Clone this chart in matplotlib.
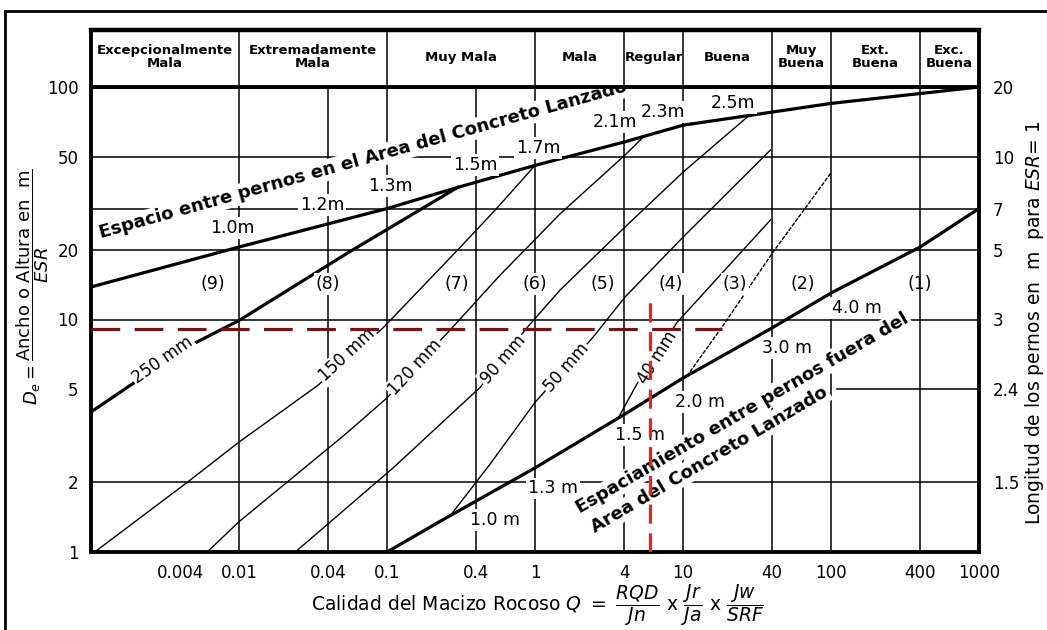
import numpy as np
import matplotlib
matplotlib.use("Agg")
import matplotlib.pyplot as plt
from matplotlib.lines import Line2D

# ── Axis ticks ────────────────────────────────────────────────────────────────
q_ticks = [0.004, 0.01, 0.04, 0.1, 0.4, 1, 4, 10, 40, 100, 400, 1000]
q_tick_labels = ["0.004", "0.01", "0.04", "0.1", "0.4", "1", "4", "10",
                 "40", "100", "400", "1000"]
de_ticks = [1, 2, 5, 10, 20, 50, 100]
bolt_pos = [100, 50, 30, 20, 10, 5, 2]
bolt_labels = ["20", "10", "7", "5", "3", "2.4", "1.5"]

# ── Rock mass categories (header) ────────────────────────────────────────────
cat_edges = [0.001, 0.01, 0.1, 1, 4, 10, 40, 100, 400, 1000]
cat_names = ["Excepcionalmente\nMala", "Extremadamente\nMala", "Muy Mala",
             "Mala", "Regular", "Buena", "Muy\nBuena", "Ext.\nBuena",
             "Exc.\nBuena"]

grid_q = [0.01, 0.04, 0.1, 0.4, 1, 4, 10, 40, 100, 400]
grid_de = [2, 10, 20, 30, 50]
grid5_q = [110, 1000]          # short line at De = 5 on the right

# ── Boundary curves (Q, De) ──────────────────────────────────────────────────
upper_q  = [0.001, 0.01, 0.1, 0.3, 1, 4, 10, 40, 100, 1000]
upper_de = [13.8, 20.5, 30, 37, 46, 58, 68.5, 78, 85, 100]
lower_q  = [0.1, 0.25, 1, 4, 10, 40, 100, 400, 1000]
lower_de = [1.0, 1.4, 2.3, 3.9, 5.6, 9.2, 13.0, 20.5, 30]

mm250_q  = [0.001, 0.002, 0.005, 0.01, 0.054, 0.3]
mm250_de = [4.0, 5.4, 7.9, 9.9, 19.3, 37]
mm150_q  = [0.00106, 0.0045, 0.01, 0.034, 0.094, 0.3, 0.55, 1.0]
mm150_de = [1.0, 2.0, 2.97, 5.2, 9.2, 19.9, 30, 46]
mm120_q  = [0.0061, 0.01, 0.052, 0.1, 0.275, 0.58, 1.48, 4.06, 5.4]
mm120_de = [1.0, 1.35, 3.2, 4.6, 9.2, 15.5, 28.5, 51, 61]
mm90_q   = [0.024, 0.11, 0.425, 0.88, 1.48, 4.06, 10, 28]
mm90_de  = [1.0, 2.3, 5.1, 9.2, 13.4, 25, 43, 75.5]
mm50_q   = [0.267, 0.5, 1.0, 2.47, 4.06, 10, 39]
mm50_de  = [1.43, 2.4, 4.4, 8.4, 12.5, 22.6, 53.6]
mm40_q   = [3.64, 4.9, 9.1, 39]
mm40_de  = [3.76, 5.3, 9.7, 26.8]
b32_q    = [10.6, 18.4, 40.6, 100]
b32_de   = [5.7, 9.3, 19.5, 42.7]

# ── Labels ───────────────────────────────────────────────────────────────────
region_names = ["(9)", "(8)", "(7)", "(6)", "(5)", "(4)", "(3)", "(2)", "(1)"]
region_q = [0.0067, 0.04, 0.297, 1.0, 2.88, 8.2, 22.4, 64.7, 400]
region_de = 14.2

up_spacing = ["1.0m", "1.2m", "1.3m", "1.5m", "1.7m", "2.1m", "2.3m", "2.5m"]
up_sp_q  = [0.00897, 0.0364, 0.105, 0.394, 1.05, 3.47, 7.3, 21.8]
up_sp_de = [24.8, 31.1, 37.5, 46.2, 54.7, 70.7, 78, 85.4]

lo_spacing = ["1.0 m", "1.3 m", "1.5 m", "2.0 m", "3.0 m", "4.0 m"]
lo_sp_q  = [0.537, 1.32, 5.12, 13.0, 50.5, 150]
lo_sp_de = [1.37, 1.88, 3.19, 4.42, 7.54, 11.2]

mm_names = ["250 mm", "150 mm", "120 mm", "90 mm", "50 mm", "40 mm"]
mm_q   = [0.00306, 0.0537, 0.155, 0.608, 1.64, 6.67]
mm_de  = [6.7, 7.03, 6.25, 6.7, 6.19, 6.9]
mm_rot = [35, 43, 47, 49, 49, 58]

# example reading (dashed lines)
ex_q, ex_de = 6.0, 9.1
ex_q_end, ex_de_top = 18.4, 11.9

# ── Figure ───────────────────────────────────────────────────────────────────
fig = plt.figure(figsize=(10.47, 6.30), dpi=100)
L, W = 91 / 1047, 888 / 1047
ax = fig.add_axes([L, 78 / 630, W, 465 / 630])
hx = fig.add_axes([L, 543 / 630, W, 57 / 630])

for a in (ax, hx):
    a.set_xscale("log")
    a.set_xlim(0.001, 1000)
    a.minorticks_off()
ax.set_yscale("log")
ax.set_ylim(1, 100)
ax.minorticks_off()

# grid
for q in grid_q:
    ax.axvline(q, color="black", lw=1.1, zorder=1)
for d in grid_de:
    ax.axhline(d, color="black", lw=1.1, zorder=1)
ax.plot(grid5_q, [5, 5], color="black", lw=1.1, zorder=1)

# curves
thick, thin = 2.3, 1.0
ax.plot(upper_q, upper_de, color="black", lw=thick, zorder=3)
ax.plot(lower_q, lower_de, color="black", lw=thick, zorder=3)
ax.plot(mm250_q, mm250_de, color="black", lw=thick, zorder=3)
for qq, dd in [(mm150_q, mm150_de), (mm120_q, mm120_de), (mm90_q, mm90_de),
               (mm50_q, mm50_de), (mm40_q, mm40_de)]:
    ax.plot(qq, dd, color="black", lw=thin, zorder=3)
ax.plot(b32_q, b32_de, color="black", lw=thin, dashes=(3, 1), zorder=3)

box = dict(boxstyle="square,pad=0.1", fc="white", ec="none")

for name, q in zip(region_names, region_q):
    ax.text(q, region_de, name, ha="center", va="center", fontsize=12.5,
            zorder=5, bbox=None if name == "(1)" else box)
for name, q, d in zip(up_spacing, up_sp_q, up_sp_de):
    ax.text(q, d, name, ha="center", va="center", fontsize=12.5, zorder=5, bbox=box)
for name, q, d in zip(lo_spacing, lo_sp_q, lo_sp_de):
    ax.text(q, d, name, ha="center", va="center", fontsize=12.5, zorder=5, bbox=box)
for name, q, d, r in zip(mm_names, mm_q, mm_de, mm_rot):
    ax.text(q, d, name, ha="center", va="center", fontsize=12, rotation=r,
            rotation_mode="anchor", zorder=5, bbox=box)

ax.text(0.070, 46.2, "Espacio entre pernos en el Area del Concreto Lanzado",
        ha="center", va="baseline", rotation=15.6, rotation_mode="anchor",
        fontsize=13, fontweight="bold", zorder=5, bbox=box)
ax.text(2.01, 1.47, "Espaciamiento entre pernos fuera del",
        ha="left", va="baseline", rotation=30.2, rotation_mode="anchor",
        fontsize=13, fontweight="bold", zorder=5, bbox=box)
ax.text(2.54, 1.21, "Area del Concreto Lanzado",
        ha="left", va="baseline", rotation=30.5, rotation_mode="anchor",
        fontsize=13, fontweight="bold", zorder=5, bbox=box)

# example dashed lines
ax.plot([0.001, ex_q_end], [ex_de, ex_de], color="#7b1113", lw=2.3,
        dashes=(9, 4.5), zorder=7)
ax.plot([ex_q, ex_q], [1, ex_de_top], color="#d22b2b", lw=2.3,
        dashes=(6, 3), zorder=7)

# axes ticks
ax.set_xticks(q_ticks)
ax.set_xticklabels(q_tick_labels)
ax.set_yticks(de_ticks)
ax.set_yticklabels([str(v) for v in de_ticks])
ax.tick_params(length=0, labelsize=12)
ax.tick_params(axis="x", pad=9)
ax.tick_params(axis="y", pad=9)
for s in ax.spines.values():
    s.set_linewidth(2.8)

ax2 = ax.twinx()
ax2.set_yscale("log")
ax2.set_ylim(1, 100)
ax2.minorticks_off()
ax2.set_yticks(bolt_pos)
ax2.set_yticklabels(bolt_labels)
ax2.tick_params(length=0, labelsize=12, pad=10)
for s in ax2.spines.values():
    s.set_visible(False)

# header
hx.set_ylim(0, 1)
hx.set_xticks([])
hx.set_yticks([])
for s in hx.spines.values():
    s.set_linewidth(2.8)
hx.spines["top"].set_linewidth(3.2)
for q in cat_edges[1:-1]:
    hx.axvline(q, color="black", lw=1.1)
for i, name in enumerate(cat_names):
    xc = np.sqrt(cat_edges[i] * cat_edges[i + 1])
    hx.text(xc, 0.52, name, ha="center", va="center", fontsize=9.5,
            fontweight="bold", linespacing=1.0)

# axis titles
fig.text(33 / 1047, 1 - 287 / 630,
         r"$D_e = \dfrac{\mathrm{Ancho\ o\ Altura\ en\ \ m}}{ESR}$",
         rotation=90, ha="center", va="center", fontsize=13)
fig.text(1034 / 1047, 1 - 323 / 630,
         r"Longitud de los pernos en  m  para $ESR$= 1",
         rotation=90, ha="center", va="center", fontsize=13.5)
fig.text(538 / 1047, 1 - 605 / 630,
         r"Calidad del Macizo Rocoso $Q\ =\ \dfrac{RQD}{Jn}\ \mathrm{x}\ "
         r"\dfrac{Jr}{Ja}\ \mathrm{x}\ \dfrac{Jw}{SRF}$",
         ha="center", va="center", fontsize=13.5)

# outer frame
fig.add_artist(Line2D([5 / 1047, 1], [1 - 11 / 630] * 2,
                      transform=fig.transFigure, color="black", lw=2))
fig.add_artist(Line2D([5 / 1047] * 2, [0, 1 - 11 / 630],
                      transform=fig.transFigure, color="black", lw=2))

fig.savefig("out.png", dpi=100)
